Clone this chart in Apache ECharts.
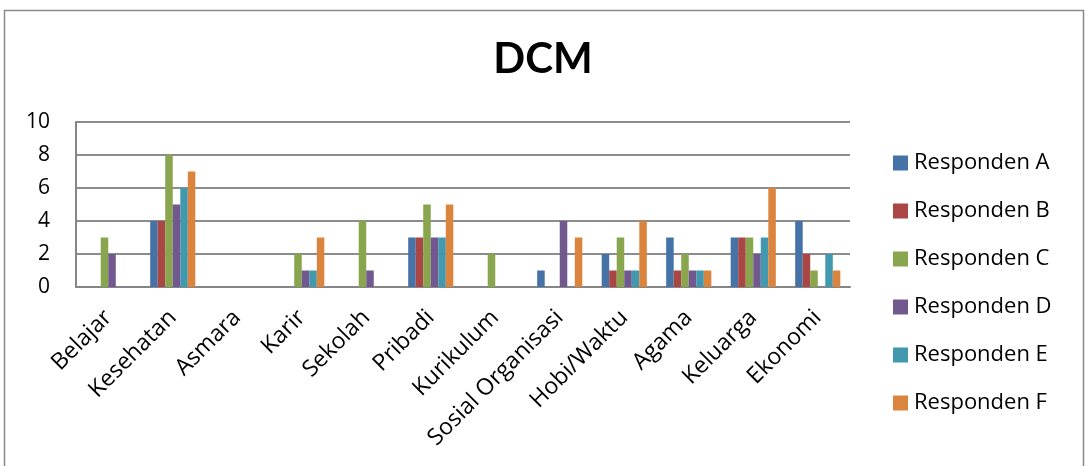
<!DOCTYPE html>
<html>
<head>
<meta charset="utf-8">
<script src="https://cdn.jsdelivr.net/npm/echarts@6/dist/echarts.min.js"></script>
<style>
  html, body { margin: 0; padding: 0; background: #fff; }
  #chart { width: 1086px; height: 466px; }
</style>
</head>
<body>
<div id="chart"></div>
<script>
// Topics (categories) on the x axis
const categories = ['Belajar', 'Kesehatan', 'Asmara', 'Karir', 'Sekolah', 'Pribadi',
  'Kurikulum', 'Sosial Organisasi', 'Hobi/Waktu', 'Agama', 'Keluarga', 'Ekonomi'];

// Counts per respondent, one value per topic
const respondenA = [0, 4, 0, 0, 0, 3, 0, 1, 2, 3, 3, 4];
const respondenB = [0, 4, 0, 0, 0, 3, 0, 0, 1, 1, 3, 2];
const respondenC = [3, 8, 0, 2, 4, 5, 2, 0, 3, 2, 3, 1];
const respondenD = [2, 5, 0, 1, 1, 3, 0, 4, 1, 1, 2, 0];
const respondenE = [0, 6, 0, 1, 0, 3, 0, 0, 1, 1, 3, 2];
const respondenF = [0, 7, 0, 3, 0, 5, 0, 3, 4, 1, 6, 1];

const seriesNames = ['Responden A', 'Responden B', 'Responden C', 'Responden D', 'Responden E', 'Responden F'];
const seriesData = [respondenA, respondenB, respondenC, respondenD, respondenE, respondenF];
const colors = ['#4572A7', '#AA4643', '#89A54E', '#71588F', '#4198AF', '#DB843D'];

const font = '"Open Sans", Lato, sans-serif';
const titleFont = 'Lato, "Open Sans", sans-serif';

const chart = echarts.init(document.getElementById('chart'), null, { renderer: 'canvas' });

chart.setOption({
  animation: false,
  color: colors,
  textStyle: { fontFamily: font },
  title: {
    text: 'DCM',
    left: 'center',
    top: 38,
    padding: 0,
    textStyle: { fontFamily: titleFont, fontWeight: 'bold', fontSize: 42, color: '#000' }
  },
  graphic: [{
    type: 'rect',
    shape: { x: 4.5, y: 10.5, width: 1079, height: 470 },
    style: { fill: 'none', stroke: '#8a8a8a', lineWidth: 1.5 },
    silent: true
  }],
  legend: {
    orient: 'vertical',
    left: 893,
    top: 152,
    padding: 0,
    itemWidth: 15,
    itemHeight: 15,
    itemGap: 26,
    icon: 'rect',
    textStyle: { fontFamily: font, fontSize: 22, lineHeight: 22, color: '#000', padding: [0, 0, 0, 1] },
    data: seriesNames
  },
  grid: { left: 76, right: 236, top: 122, bottom: 179, containLabel: false },
  xAxis: {
    type: 'category',
    data: categories,
    axisLine: { show: true, lineStyle: { color: '#868686', width: 2 } },
    axisTick: { show: false },
    axisLabel: {
      rotate: 45,
      interval: 0,
      margin: 27,
      fontFamily: font,
      fontSize: 23,
      color: '#000'
    }
  },
  yAxis: {
    type: 'value',
    min: 0,
    max: 10,
    interval: 2,
    axisLine: { show: true, lineStyle: { color: '#868686', width: 2 } },
    axisTick: { show: false },
    splitLine: { lineStyle: { color: '#8c8c8c', width: 2 } },
    axisLabel: { fontFamily: font, fontSize: 21, color: '#000', margin: 26 }
  },
  series: seriesNames.map((name, i) => ({
    name: name,
    type: 'bar',
    data: seriesData[i],
    barGap: '0%',
    barCategoryGap: '30%',
    itemStyle: { color: colors[i] }
  }))
});
</script>
</body>
</html>
